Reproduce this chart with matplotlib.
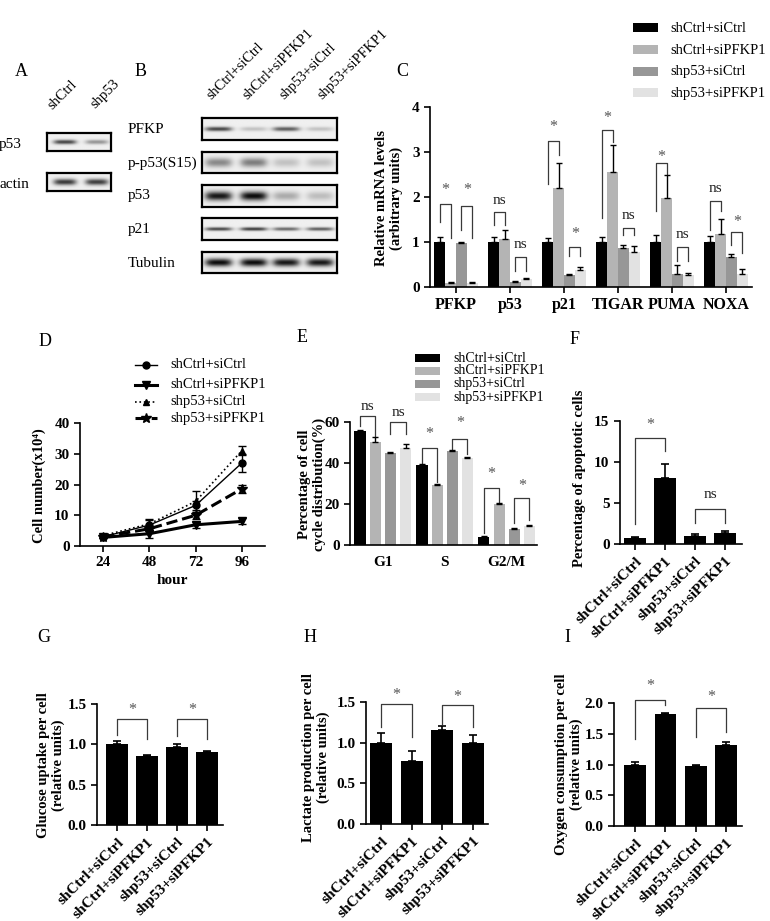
import numpy as np
import matplotlib
matplotlib.use('Agg')
import matplotlib.pyplot as plt
from matplotlib.patches import Rectangle
from matplotlib.lines import Line2D

plt.rcParams['font.family'] = ['Liberation Serif', 'DejaVu Serif']

W, H = 770, 921

groups = ['shCtrl+siCtrl', 'shCtrl+siPFKP1', 'shp53+siCtrl', 'shp53+siPFKP1']
bar_colors = ['#000000', '#b4b4b4', '#979797', '#e2e2e2']

# A / B western blots (band darkness 0..1)
blot_a_rows = ['p53', 'actin']
blot_a_lanes = ['shCtrl', 'shp53']
blot_a_signal = [[0.75, 0.40], [0.80, 0.78]]
blot_b_rows = ['PFKP', 'p-p53(S15)', 'p53', 'p21', 'Tubulin']
blot_b_signal = [[0.75, 0.20, 0.65, 0.20],
                 [0.45, 0.50, 0.20, 0.20],
                 [0.95, 1.00, 0.30, 0.22],
                 [0.75, 0.80, 0.60, 0.65],
                 [1.00, 1.00, 0.95, 0.95]]

# C relative mRNA levels
genes = ['PFKP', 'p53', 'p21', 'TIGAR', 'PUMA', 'NOXA']
mrna_shctrl_sictrl = [1.00, 1.00, 1.00, 1.00, 1.00, 1.00]
mrna_shctrl_sipfkp = [0.10, 1.07, 2.20, 2.55, 1.97, 1.17]
mrna_shp53_sictrl = [0.97, 0.12, 0.26, 0.86, 0.30, 0.66]
mrna_shp53_sipfkp = [0.10, 0.17, 0.38, 0.77, 0.27, 0.28]
mrna_err = [[0.12, 0.12, 0.08, 0.12, 0.15, 0.14],
            [0.02, 0.20, 0.55, 0.60, 0.52, 0.35],
            [0.02, 0.02, 0.02, 0.07, 0.18, 0.08],
            [0.02, 0.03, 0.06, 0.14, 0.05, 0.13]]
# (group, bar a, bar b, top, leg a, leg b, label, label y)
mrna_sig = [(0, 0, 1, 1.84, 1.45, 1.08, '*', 2.15), (0, 2, 3, 1.80, 1.27, 1.08, '*', 2.15),
            (1, 0, 1, 1.67, 1.38, 1.38, 'ns', 1.93), (1, 2, 3, 0.66, 0.35, 0.35, 'ns', 0.94),
            (2, 0, 1, 3.24, 2.30, 2.94, '*', 3.55), (2, 2, 3, 0.90, 0.68, 0.68, '*', 1.18),
            (3, 0, 1, 3.48, 1.53, 3.22, '*', 3.75), (3, 2, 3, 1.32, 1.16, 1.16, 'ns', 1.60),
            (4, 0, 1, 2.75, 1.68, 2.52, '*', 2.90), (4, 2, 3, 0.90, 0.57, 0.57, 'ns', 1.16),
            (5, 0, 1, 1.91, 1.27, 1.68, 'ns', 2.20), (5, 2, 3, 1.22, 0.94, 0.75, '*', 1.45)]

# D growth curve
hours = [24, 48, 72, 96]
cells_shctrl_sictrl = [3.0, 6.8, 13.2, 27.0]
cells_shctrl_sipfkp = [2.8, 4.0, 6.9, 8.0]
cells_shp53_sictrl = [3.4, 7.2, 14.5, 31.0]
cells_shp53_sipfkp = [3.0, 5.6, 10.0, 18.6]
cells_err = [[0.3, 1.5, 1.5, 3.0], [0.3, 1.3, 1.0, 1.0],
             [0.3, 1.5, 3.5, 1.5], [0.3, 0.8, 1.2, 1.3]]

# E cell cycle
phases = ['G1', 'S', 'G2/M']
cycle_shctrl_sictrl = [55.8, 38.8, 4.0]
cycle_shctrl_sipfkp = [50.4, 29.5, 19.8]
cycle_shp53_sictrl = [44.8, 45.8, 8.0]
cycle_shp53_sipfkp = [47.3, 42.4, 9.2]
cycle_err = [[0.4, 0.5, 0.3], [2.2, 0.4, 0.5], [0.8, 0.5, 0.4], [2.2, 0.5, 0.5]]
cycle_sig = [(0, 0, 1, 62.9, 57.9, 52.7, 'ns', 67.5), (0, 2, 3, 60.0, 54.3, 54.3, 'ns', 64.5),
             (1, 0, 1, 47.3, 39.7, 30.8, '*', 54.0), (1, 2, 3, 51.9, 46.2, 44.6, '*', 59.5),
             (2, 0, 1, 27.6, 5.7, 21.0, '*', 34.5), (2, 2, 3, 22.7, 10.5, 12.2, '*', 29.0)]

# F apoptosis
apoptosis = [0.7, 8.0, 1.0, 1.4]
apoptosis_err = [0.1, 1.8, 0.2, 0.2]
apoptosis_sig = [(0, 1, 12.9, 2.5, 11.3, '*', 14.5), (2, 3, 4.3, 2.6, 2.6, 'ns', 6.0)]

# G glucose uptake
glucose = [1.00, 0.86, 0.97, 0.90]
glucose_err = [0.045, 0.008, 0.035, 0.02]
glucose_sig = [(0, 1, 1.31, 1.12, 1.06, '*', 1.43), (2, 3, 1.31, 1.10, 1.06, '*', 1.43)]

# H lactate production
lactate = [1.00, 0.78, 1.15, 1.00]
lactate_err = [0.12, 0.12, 0.05, 0.10]
lactate_sig = [(0, 1, 1.47, 1.19, 1.07, '*', 1.59), (2, 3, 1.46, 1.23, 1.19, '*', 1.56)]

# I oxygen consumption
oxygen = [1.00, 1.82, 0.97, 1.32]
oxygen_err = [0.04, 0.02, 0.02, 0.05]
oxygen_sig = [(0, 1, 2.05, 1.42, 1.97, '*', 2.28), (2, 3, 1.92, 1.45, 1.53, '*', 2.10)]


fig = plt.figure(figsize=(W / 100, H / 100), dpi=100)


def px_axes(x0, y0, x1, y1):
    return fig.add_axes([x0 / W, 1 - y1 / H, (x1 - x0) / W, (y1 - y0) / H])


def ftext(x, y, s, **kw):
    return fig.text(x / W, 1 - y / H, s, **kw)


def style(ax, yticks, yfmt, fs=10.5):
    for s in ['top', 'right']:
        ax.spines[s].set_visible(False)
    for s in ['left', 'bottom']:
        ax.spines[s].set_linewidth(1.2)
    ax.tick_params(direction='out', width=1.2, length=4, labelsize=fs)
    ax.set_yticks(yticks, [yfmt.format(t) for t in yticks], fontweight='bold')
    ax.set_ylim(yticks[0], yticks[-1])


def bracket(ax, xa, xb, top, la, lb, label, ty):
    ax.plot([xa, xa, xb, xb], [la, top, top, lb], color='#3a3a3a', lw=0.9, clip_on=False)
    if label == '*':
        ax.text((xa + xb) / 2, ty, label, ha='center', va='center', fontsize=11.5,
                color='#555555', clip_on=False)
    else:
        ax.text((xa + xb) / 2, ty, label, ha='center', va='center', fontsize=11,
                color='#222222', clip_on=False)


def patch_legend(xp, pw, ph, xt, ys, fs):
    for y, lab, col in zip(ys, groups, bar_colors):
        fig.add_artist(Rectangle((xp / W, 1 - (y + ph / 2) / H), pw / W, ph / H,
                                 transform=fig.transFigure, facecolor=col, edgecolor='none'))
        ftext(xt, y, lab, fontsize=fs, va='center', ha='left')


def blot(x0, y0, x1, y1, dark, lanes, bw, bh):
    ax = px_axes(x0, y0, x1, y1)
    xs = np.linspace(0, 1, 160)
    ys = np.linspace(0, 1, 40)
    img = np.full((len(ys), len(xs)), 0.94)
    for c, d in zip(lanes, dark):
        px_ = np.exp(-((xs - c) / (bw / 2)) ** 4)
        py_ = np.exp(-((ys - 0.5) / (bh / 2)) ** 2)
        img -= d * 0.9 * np.outer(py_, px_)
    ax.imshow(img, cmap='gray', vmin=0, vmax=1, extent=(0, 1, 0, 1), aspect='auto',
              interpolation='bilinear')
    ax.set_xticks([])
    ax.set_yticks([])
    for s in ax.spines.values():
        s.set_linewidth(1.6)
    return ax


def grouped_bars(ax, series, errs, step, width):
    x = np.arange(len(series[0]))
    for k, (vals, e, col) in enumerate(zip(series, errs, bar_colors)):
        xs = x + (k - 1.5) * step
        ax.bar(xs, vals, width, color=col, zorder=2)
        ax.errorbar(xs, vals, yerr=[np.zeros(len(e)), e], fmt='none', ecolor='black',
                    elinewidth=1, capsize=2, capthick=1, zorder=3)
    return x


def single_bars(ax, vals, err, sig, labels):
    x = np.arange(len(vals))
    ax.bar(x, vals, 0.72, color='black', zorder=2)
    ax.errorbar(x, vals, yerr=[np.zeros(len(err)), err], fmt='none', ecolor='black',
                elinewidth=1.2, capsize=3, capthick=1.2, zorder=3)
    for a, b, top, la, lb, lab, ty in sig:
        bracket(ax, x[a], x[b], top, la, lb, lab, ty)
    ax.set_xticks(x, labels, rotation=45, ha='right', rotation_mode='anchor',
                  fontweight='bold', fontsize=11.2)


# panel letters
for letter, (lx, ly) in zip('ABCDEFGHI', [(21, 71), (141, 71), (402, 72), (45, 342), (302, 337),
                                          (575, 339), (44, 638), (310, 638), (567, 638)]):
    ftext(lx, ly, letter, fontsize=13, ha='center', va='center')

# ---- A
for (yt, yb), row, sig in zip([(133, 151), (173, 191)], blot_a_rows, blot_a_signal):
    blot(47, yt, 111, yb, sig, [0.28, 0.78], 0.36, 0.25 if row == 'p53' else 0.35)
ftext(-1, 148, 'p53', fontsize=11, va='baseline')
ftext(-1, 188, 'actin', fontsize=11, va='baseline')
for lab, (lx, ly) in zip(blot_a_lanes, [(52, 110), (95, 109)]):
    ftext(lx, ly, lab, fontsize=10.5, rotation=45, ha='left', va='baseline', rotation_mode='anchor')

# ---- B
b_rows_y = [(118, 140), (152, 173), (185, 207), (218, 240), (252, 273)]
b_thick = [0.2, 0.45, 0.42, 0.16, 0.38]
b_label_y = [133, 167, 199, 233, 267]
for (yt, yb), row, sig, th, ly in zip(b_rows_y, blot_b_rows, blot_b_signal, b_thick, b_label_y):
    blot(202, yt, 337, yb, sig, [0.12, 0.38, 0.62, 0.87], 0.2, th)
    ftext(128, ly, row, fontsize=11, va='baseline')
for lab, lx in zip(groups, [211, 247, 284, 322]):
    ftext(lx, 100, lab, fontsize=10.3, rotation=45, ha='left', va='baseline', rotation_mode='anchor')

# ---- C
axc = px_axes(430, 107, 752, 287)
xc = grouped_bars(axc, [mrna_shctrl_sictrl, mrna_shctrl_sipfkp, mrna_shp53_sictrl,
                        mrna_shp53_sipfkp], mrna_err, 0.2, 0.2)
style(axc, [0, 1, 2, 3, 4], '{}', fs=11)
axc.set_xlim(-0.48, 5.48)
axc.set_xticks(xc, genes, fontweight='bold', fontsize=11.5)
for g, a, b, top, la, lb, lab, ty in mrna_sig:
    bracket(axc, g + (a - 1.5) * 0.2, g + (b - 1.5) * 0.2, top, la, lb, lab, ty)
ftext(389, 198, 'Relative mRNA levels\n(arbitrary units)', rotation=90, ha='center',
      va='center', fontweight='bold', fontsize=10.5, linespacing=1.15)
patch_legend(633, 25, 9, 670, [28, 50, 72, 93], 10.5)

# ---- D
axd = px_axes(80, 423, 265, 546)
d_styles = [('-', 1.0, 'o', 5), ('-', 2.2, 'v', 6), (':', 1.2, '^', 5), ('--', 2.2, '*', 7)]
d_series = [cells_shctrl_sictrl, cells_shctrl_sipfkp, cells_shp53_sictrl, cells_shp53_sipfkp]
for vals, e, (ls, lw, mk, ms) in zip(d_series, cells_err, d_styles):
    axd.errorbar(hours, vals, yerr=e, color='black', ls=ls, lw=lw, marker=mk, ms=ms,
                 elinewidth=1, capsize=3, capthick=1)
style(axd, [0, 10, 20, 30, 40], '{}', fs=11)
axd.set_xlim(12, 108)
axd.set_xticks(hours, [str(h) for h in hours], fontweight='bold', fontsize=11)
ftext(172, 581, 'hour', ha='center', va='center', fontweight='bold', fontsize=11)
ftext(39, 486, 'Cell number(x10\u2074)', rotation=90, ha='center', va='center',
      fontweight='bold', fontsize=10.5)
for y, lab, (ls, lw, mk, ms) in zip([365, 385, 402, 418], groups, d_styles):
    fig.add_artist(Line2D([135 / W, 157 / W], [1 - y / H, 1 - y / H], transform=fig.transFigure,
                          color='black', ls=ls, lw=lw))
    fig.add_artist(Line2D([146 / W], [1 - y / H], transform=fig.transFigure, color='black',
                          marker=mk, ms=ms, ls='none'))
    ftext(170, y, lab, fontsize=10.5, va='center')

# ---- E
axe = px_axes(350, 422, 537, 545)
xe = grouped_bars(axe, [cycle_shctrl_sictrl, cycle_shctrl_sipfkp, cycle_shp53_sictrl,
                        cycle_shp53_sipfkp], cycle_err, 0.245, 0.18)
style(axe, [0, 20, 40, 60], '{}', fs=11)
axe.set_xlim(-0.53, 2.49)
axe.set_xticks(xe, phases, fontweight='bold', fontsize=11)
axe.tick_params(axis='x', length=0, pad=8)
for g, a, b, top, la, lb, lab, ty in cycle_sig:
    bracket(axe, g + (a - 1.5) * 0.245, g + (b - 1.5) * 0.245, top, la, lb, lab, ty)
ftext(312, 484, 'Percentage of cell\ncycle distribution(%)', rotation=90, ha='center',
      va='center', fontweight='bold', fontsize=10.5, linespacing=1.15)
patch_legend(415, 25, 8, 453, [358, 371, 384, 397], 10)

# ---- F
axf = px_axes(620, 421, 742, 544)
single_bars(axf, apoptosis, apoptosis_err, apoptosis_sig, groups)
style(axf, [0, 5, 10, 15], '{}', fs=11)
axf.set_xlim(-0.5, 3.57)
ftext(579, 478, 'Percentage of apoptotic cells', rotation=90, ha='center', va='center',
      fontweight='bold', fontsize=10.5)

# ---- G
axg = px_axes(97, 704, 223, 825)
single_bars(axg, glucose, glucose_err, glucose_sig, groups)
style(axg, [0.0, 0.5, 1.0, 1.5], '{:.1f}', fs=11)
axg.set_xlim(-0.67, 3.53)
ftext(51, 765, 'Glucose uptake per cell\n(relative units)', rotation=90, ha='center',
      va='center', fontweight='bold', fontsize=10.5, linespacing=1.15)

# ---- H
axh = px_axes(366, 702, 488, 824)
single_bars(axh, lactate, lactate_err, lactate_sig, groups)
style(axh, [0.0, 0.5, 1.0, 1.5], '{:.1f}', fs=11)
axh.set_xlim(-0.5, 3.5)
ftext(316, 757, 'Lactate production per cell\n(relative units)', rotation=90, ha='center',
      va='center', fontweight='bold', fontsize=10.5, linespacing=1.15)

# ---- I
axi = px_axes(614, 703, 742, 826)
single_bars(axi, oxygen, oxygen_err, oxygen_sig, groups)
style(axi, [0.0, 0.5, 1.0, 1.5, 2.0], '{:.1f}', fs=11)
axi.set_xlim(-0.7, 3.53)
ftext(569, 764, 'Oxygen consumption per cell\n(relative units)', rotation=90, ha='center',
      va='center', fontweight='bold', fontsize=10.5, linespacing=1.15)

fig.savefig('out.png', dpi=100, facecolor='white')
